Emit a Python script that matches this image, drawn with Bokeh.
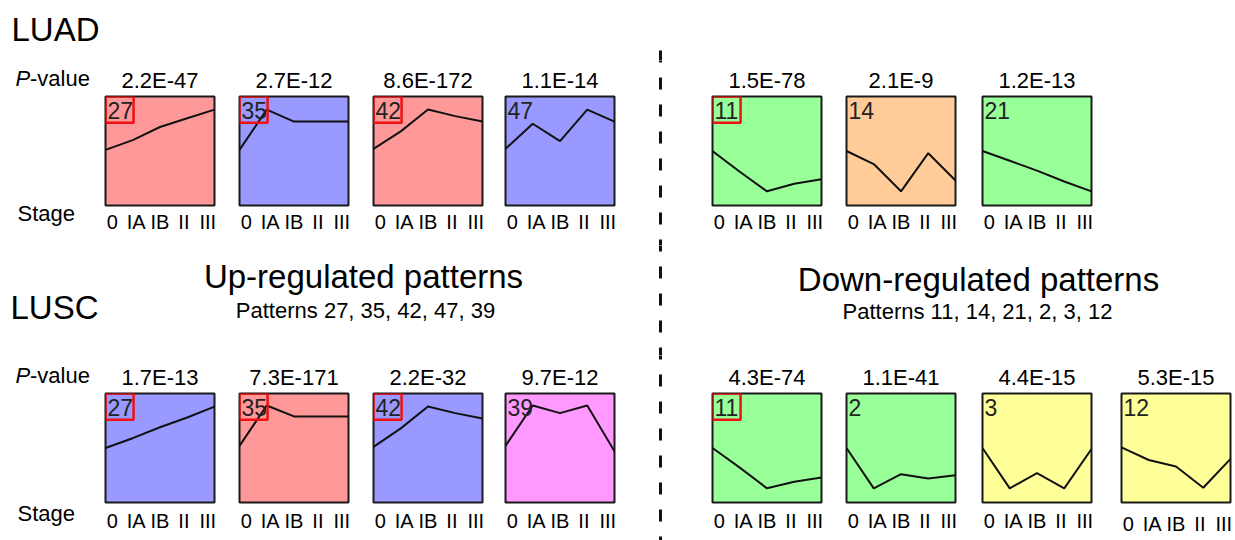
from bokeh.plotting import figure
from bokeh.models import Range1d, LinearAxis, FixedTicker, BoxAnnotation, Spacer
from bokeh.layouts import row, column
from bokeh.core.properties import value
from bokeh.embed import file_html
from bokeh.resources import INLINE

FONT = "Liberation Sans"

# ---------------- data ----------------
stages = ["0", "IA", "IB", "II", "III"]

RED, BLUE, GREEN = "#FF9999", "#9999FF", "#99FF99"
ORANGE, YELLOW, PINK = "#FFCC99", "#FFFF99", "#FF99FF"

luad_ids = [27, 35, 42, 47, 11, 14, 21]
luad_pvals = ["2.2E-47", "2.7E-12", "8.6E-172", "1.1E-14", "1.5E-78", "2.1E-9", "1.2E-13"]
luad_colors = [RED, BLUE, RED, BLUE, GREEN, ORANGE, GREEN]
luad_boxed = [True, True, True, False, True, False, False]
luad_27 = [0.51, 0.60, 0.72, 0.80, 0.88]
luad_35 = [0.51, 0.88, 0.77, 0.77, 0.77]
luad_42 = [0.52, 0.68, 0.88, 0.82, 0.77]
luad_47 = [0.52, 0.75, 0.59, 0.88, 0.77]
luad_11 = [0.50, 0.31, 0.13, 0.20, 0.24]
luad_14 = [0.50, 0.38, 0.13, 0.48, 0.23]
luad_21 = [0.50, 0.41, 0.32, 0.22, 0.13]
luad_profiles = [luad_27, luad_35, luad_42, luad_47, luad_11, luad_14, luad_21]

lusc_ids = [27, 35, 42, 39, 11, 2, 3, 12]
lusc_pvals = ["1.7E-13", "7.3E-171", "2.2E-32", "9.7E-12", "4.3E-74", "1.1E-41", "4.4E-15", "5.3E-15"]
lusc_colors = [BLUE, RED, BLUE, PINK, GREEN, GREEN, YELLOW, YELLOW]
lusc_boxed = [True, True, True, False, True, False, False, False]
lusc_27 = [0.50, 0.59, 0.69, 0.78, 0.88]
lusc_35 = [0.52, 0.89, 0.79, 0.79, 0.79]
lusc_42 = [0.51, 0.68, 0.88, 0.82, 0.77]
lusc_39 = [0.52, 0.89, 0.82, 0.89, 0.47]
lusc_11 = [0.50, 0.32, 0.13, 0.19, 0.23]
lusc_2 = [0.50, 0.13, 0.26, 0.22, 0.25]
lusc_3 = [0.50, 0.13, 0.27, 0.13, 0.49]
lusc_12 = [0.505, 0.39, 0.33, 0.135, 0.40]
lusc_profiles = [lusc_27, lusc_35, lusc_42, lusc_39, lusc_11, lusc_2, lusc_3, lusc_12]

up_title = "Up-regulated patterns"
up_sub = "Patterns 27, 35, 42, 47, 39"
down_title = "Down-regulated patterns"
down_sub = "Patterns 11, 14, 21, 2, 3, 12"

# ---------------- layout helpers ----------------
PAD = 3
LEFT = 0
RIGHT = 1235
DIV_X = 660
SHIFT = 9  # empirical baseline correction for free text


def screen_fig(x0, x1, y0, y1):
    p = figure(width=x1 - x0, height=y1 - y0, x_range=Range1d(x0, x1), y_range=Range1d(y1, y0),
               toolbar_location=None, output_backend="svg", x_axis_location=None,
               y_axis_location=None, min_border=0, frame_align=False, title=None)
    p.min_border_left = 0
    p.min_border_right = 0
    p.min_border_top = 0
    p.min_border_bottom = 0
    p.grid.visible = False
    p.outline_line_color = None
    p.background_fill_color = "white"
    p.border_fill_color = "white"
    return p


def txt(p, x, y, s, size, align="left", style="normal"):
    p.text(x=[x], y=[y - SHIFT], text=[s], text_font=value(FONT), text_font_size=value(size),
           text_align=align, text_baseline="alphabetic", text_color="#000000",
           text_font_style=style)


def dashed(p):
    p.segment(x0=[DIV_X], y0=[50], x1=[DIV_X], y1=[560], line_width=3,
              line_color="#111111", line_dash="12 15")


def panel(pid, pval, color, boxed, prof, fw, row_top, row_h, frame_top, standoff):
    top_b = frame_top - row_top
    bot_b = row_h - top_b - 109
    p = figure(width=fw + 2 * PAD, height=row_h, x_range=Range1d(0, 4), y_range=Range1d(0, 1),
               toolbar_location=None, output_backend="svg", x_axis_location=None,
               y_axis_location=None, min_border_left=PAD, min_border_right=PAD,
               min_border_top=top_b, min_border_bottom=bot_b, title=pval, frame_align=False)
    p.grid.visible = False
    p.background_fill_color = color
    p.border_fill_color = "white"
    p.outline_line_color = "#1a1a1a"
    p.outline_line_width = 2
    p.title.align = "center"
    p.title.text_font = FONT
    p.title.text_font_size = "22px"
    p.title.text_font_style = "normal"
    p.title.text_color = "#000000"
    p.title.standoff = 7
    p.extra_x_ranges = {"lab": Range1d(-0.28, 4.28)}
    ax = LinearAxis(x_range_name="lab", ticker=FixedTicker(ticks=list(range(len(stages)))),
                    major_label_overrides={i: s for i, s in enumerate(stages)})
    ax.axis_line_color = None
    ax.major_tick_line_color = None
    ax.minor_tick_line_color = None
    ax.major_tick_out = 0
    ax.major_tick_in = 0
    ax.major_label_text_font = FONT
    ax.major_label_text_font_size = "20px"
    ax.major_label_text_color = "#000000"
    ax.major_label_standoff = standoff
    p.add_layout(ax, "below")
    p.line(x=list(range(len(stages))), y=prof, line_color="#111111", line_width=2)
    p.text(x=[0.07], y=[0.945], text=[str(pid)], text_font=value(FONT),
           text_font_size=value("23px"), text_baseline="top", text_align="left",
           text_color="#222222")
    if boxed:
        p.add_layout(BoxAnnotation(left=0, right=1.03, bottom=0.76, top=1, fill_alpha=0,
                                   line_color="#EE1111", line_alpha=1.0, line_width=2.5))
    return p


def build_row(ids, pvals, colors, boxed, profs, lefts, widths, row_top, row_h, frame_top,
              pval_base, stage_base, standoffs):
    kids = []
    lf = screen_fig(LEFT, lefts[0] - PAD, row_top, row_top + row_h)
    txt(lf, 15, pval_base, "P", "22px", style="italic")
    txt(lf, 29.5, pval_base, "-value", "22px")
    txt(lf, 17, stage_base, "Stage", "22px")
    kids.append(lf)
    cur = lefts[0] - PAD
    for i in range(len(ids)):
        fl = lefts[i] - PAD
        if cur < DIV_X < fl:
            d = screen_fig(cur, fl, row_top, row_top + row_h)
            dashed(d)
            kids.append(d)
        elif fl > cur:
            kids.append(Spacer(width=fl - cur, height=row_h))
        kids.append(panel(ids[i], pvals[i], colors[i], boxed[i], profs[i], widths[i],
                          row_top, row_h, frame_top, standoffs[i]))
        cur = fl + widths[i] + 2 * PAD
    return row(kids, spacing=0)


# ---------------- build ----------------
headA = screen_fig(LEFT, RIGHT, 0, 60)
txt(headA, 11, 38, "LUAD", "33px")
dashed(headA)

rowA = build_row(luad_ids, luad_pvals, luad_colors, luad_boxed, luad_profiles,
                 [105, 239, 373, 505, 712, 846, 982], [109] * 7,
                 60, 185, 96, 87, 222, [5] * 7)

headB = screen_fig(LEFT, RIGHT, 245, 355)
txt(headB, 363, 285, up_title, "33px", align="center")
txt(headB, 365, 319, up_sub, "22px", align="center")
txt(headB, 10, 316, "LUSC", "33px")
txt(headB, 978, 288, down_title, "33px", align="center")
txt(headB, 977, 320, down_sub, "22px", align="center")
dashed(headB)

rowB = build_row(lusc_ids, lusc_pvals, lusc_colors, lusc_boxed, lusc_profiles,
                 [105, 239, 373, 505, 712, 846, 982, 1121], [109] * 8,
                 355, 185, 393, 384, 522, [7] * 7 + [10])

layout = column([headA, rowA, headB, rowB], spacing=0)

open("out.html", "w").write(file_html(layout, INLINE))
